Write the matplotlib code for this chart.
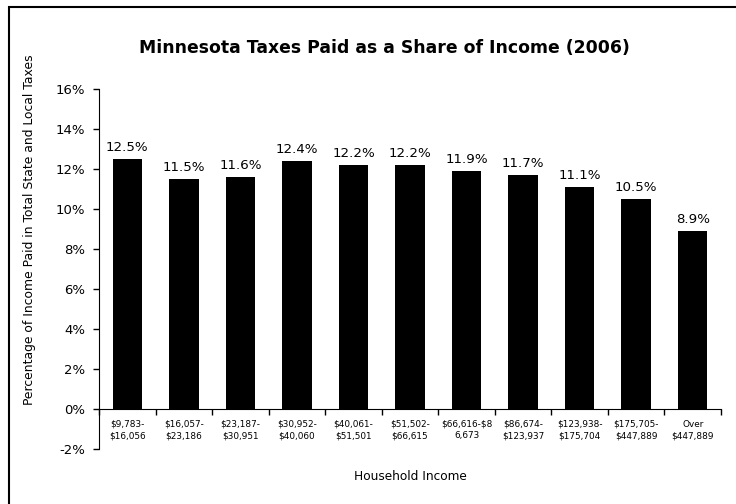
import matplotlib
matplotlib.use('Agg')
import matplotlib.pyplot as plt
import numpy as np
from matplotlib.patches import Rectangle

# Chart values
incomes = ['$9,783-\n$16,056', '$16,057-\n$23,186', '$23,187-\n$30,951',
           '$30,952-\n$40,060', '$40,061-\n$51,501', '$51,502-\n$66,615',
           '$66,616-$8\n6,673', '$86,674-\n$123,937', '$123,938-\n$175,704',
           '$175,705-\n$447,889', 'Over\n$447,889']
tax_share = [12.5, 11.5, 11.6, 12.4, 12.2, 12.2, 11.9, 11.7, 11.1, 10.5, 8.9]
y_ticks = [-2, 0, 2, 4, 6, 8, 10, 12, 14, 16]

plt.rcParams['font.family'] = ['DejaVu Sans']
plt.rcParams['text.parse_math'] = False

fig = plt.figure(figsize=(7.36, 5.04), dpi=100)
ax = fig.add_axes([99 / 736, 1 - 449 / 504, 622 / 736, 360 / 504])

x = np.arange(len(incomes))
ax.bar(x, tax_share, width=0.52, color='black')

# value labels above the bars
for xi, v in zip(x, tax_share):
    ax.annotate('%.1f%%' % v, (xi, v), xytext=(0, 3.5), textcoords='offset points',
                ha='center', va='bottom', fontsize=9.6)

ax.set_xlim(-0.5, len(incomes) - 0.5)
ax.set_ylim(-2, 16)
ax.set_yticks(y_ticks)
ax.set_yticklabels(['%d%%' % t for t in y_ticks], fontsize=9.5)

# x axis sits at 0%, ticks between categories
ax.spines['bottom'].set_position(('data', 0))
ax.spines['top'].set_visible(False)
ax.spines['right'].set_visible(False)
ax.set_xticks(np.arange(-0.5, len(incomes), 1.0))
ax.set_xticklabels([])
ax.tick_params(axis='x', direction='out', length=4, width=1)
ax.tick_params(axis='y', direction='out', length=4, width=1, pad=6)

for xi, lab in zip(x, incomes):
    ax.text(xi, -0.55, lab, ha='center', va='top', fontsize=6.4, linespacing=1.35)

fig.text(410 / 736, 1 - 477 / 504, 'Household Income', ha='center', va='center', fontsize=8.7)
fig.text(30 / 736, 1 - 230 / 504, 'Percentage of Income Paid in Total State and Local Taxes',
         ha='center', va='center', rotation=90, fontsize=8.9)
fig.text(384 / 736, 1 - 48 / 504, 'Minnesota Taxes Paid as a Share of Income (2006)',
         ha='center', va='center', fontsize=12.4, fontweight='bold')

# outer chart border
fig.patches.append(Rectangle((9 / 736, -0.05), 1.0, 1 - 7 / 504 + 0.05,
                             transform=fig.transFigure, fill=False,
                             edgecolor='black', linewidth=1.5))

fig.savefig('out.png', dpi=100)
